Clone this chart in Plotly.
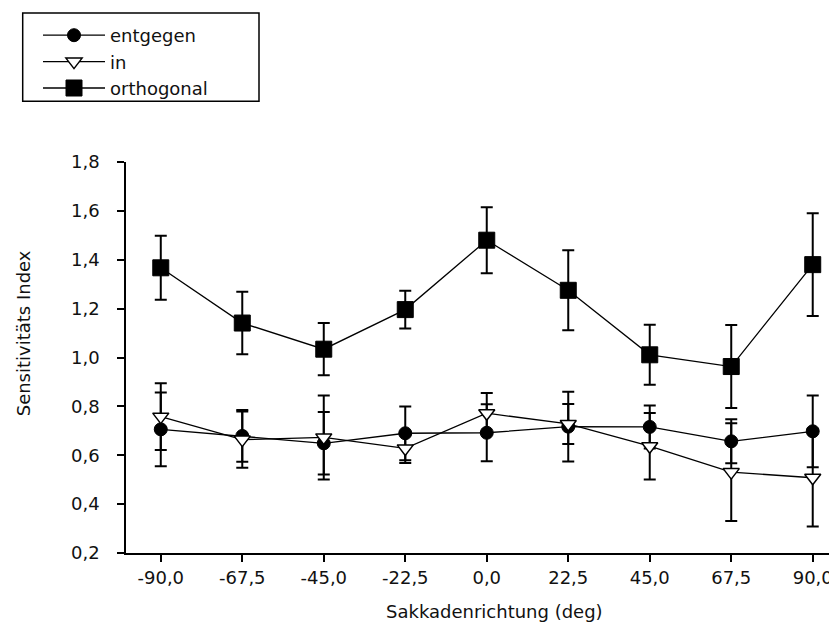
import plotly.graph_objects as go

# Data
directions = [-90, -67.5, -45, -22.5, 0, 22.5, 45, 67.5, 90]
x_tick_labels = ["-90,0", "-67,5", "-45,0", "-22,5", "0,0", "22,5", "45,0", "67,5", "90,0"]
y_tick_vals = [0.2, 0.4, 0.6, 0.8, 1.0, 1.2, 1.4, 1.6, 1.8]
y_tick_labels = ["0,2", "0,4", "0,6", "0,8", "1,0", "1,2", "1,4", "1,6", "1,8"]

entgegen = [0.706, 0.679, 0.649, 0.690, 0.692, 0.717, 0.716, 0.657, 0.698]
entgegen_err = [0.151, 0.106, 0.128, 0.110, 0.117, 0.143, 0.088, 0.090, 0.147]

in_vals = [0.758, 0.664, 0.673, 0.628, 0.772, 0.728, 0.637, 0.531, 0.508]
in_err = [0.137, 0.115, 0.172, 0.060, 0.083, 0.082, 0.136, 0.200, 0.200]

orthogonal = [1.367, 1.141, 1.034, 1.196, 1.480, 1.275, 1.011, 0.963, 1.380]
orthogonal_err = [0.131, 0.128, 0.107, 0.077, 0.135, 0.164, 0.123, 0.170, 0.210]

FONT = "DejaVu Sans"
INK = "#111111"

# page has an 8px body margin; figure coordinates below are screen - 8
W, H = 837, 622
L, T, R, B = 118, 153.7, 8, 77.3
PW, PH = W - L - R, H - T - B


def px_to_paper_x(fx):
    return (fx - L) / PW


def px_to_paper_y(fy):
    return (H - B - fy) / PH


def err(vals):
    return dict(type="data", array=vals, visible=True, color="black",
                thickness=2, width=6)


fig = go.Figure()
fig.add_trace(go.Scatter(
    x=directions, y=entgegen, name="entgegen", mode="lines+markers",
    line=dict(color="black", width=1.3),
    marker=dict(symbol="circle", size=13, color="black",
                line=dict(color="black", width=1)),
    error_y=err(entgegen_err)))
fig.add_trace(go.Scatter(
    x=directions, y=in_vals, name="in", mode="lines+markers",
    line=dict(color="black", width=1.3),
    marker=dict(symbol="triangle-down", size=14, color="white",
                line=dict(color="black", width=1.5)),
    error_y=err(in_err)))
fig.add_trace(go.Scatter(
    x=directions, y=orthogonal, name="orthogonal", mode="lines+markers",
    line=dict(color="black", width=1.3),
    marker=dict(symbol="square", size=16, color="black",
                line=dict(color="black", width=1)),
    error_y=err(orthogonal_err)))

fig.update_layout(
    width=W, height=H,
    margin=dict(l=L, r=R, t=T, b=B, autoexpand=False),
    paper_bgcolor="white", plot_bgcolor="white",
    font=dict(family=FONT, size=18, color=INK),
    showlegend=True,
    legend=dict(
        xref="container", yref="container",
        x=30 / W, y=1 - 9 / H, xanchor="left", yanchor="top",
        borderwidth=0, bgcolor="rgba(0,0,0,0)",
        font=dict(family=FONT, size=18, color=INK),
        itemwidth=62, tracegroupgap=0,
    ),
    shapes=[
        dict(type="rect", xref="paper", yref="paper", layer="below",
             x0=px_to_paper_x(14.7), x1=px_to_paper_x(251),
             y0=px_to_paper_y(4.7), y1=px_to_paper_y(93),
             line=dict(color="black", width=1.5), fillcolor="white"),
    ],
    xaxis=dict(
        range=[-99.6, 96.7], tickmode="array", tickvals=directions,
        ticktext=x_tick_labels, showgrid=False, zeroline=False,
        showline=True, linecolor="black", linewidth=1.5,
        ticks="outside", ticklen=7, tickwidth=1.5, tickcolor="black",
        tickfont=dict(family=FONT, size=18, color=INK),
        ticklabelstandoff=1,
    ),
    yaxis=dict(
        range=[0.2, 1.8], tickmode="array", tickvals=y_tick_vals,
        ticktext=y_tick_labels, showgrid=False, zeroline=False,
        showline=True, linecolor="black", linewidth=1.5,
        ticks="outside", ticklen=7, tickwidth=1.5, tickcolor="black",
        tickfont=dict(family=FONT, size=18, color=INK),
        ticklabelstandoff=14,
    ),
    annotations=[
        dict(text="Sakkadenrichtung (deg)", xref="paper", yref="paper",
             x=px_to_paper_x(494.5 - 8), y=px_to_paper_y(611 - 8),
             xanchor="center", yanchor="middle", showarrow=False,
             font=dict(family=FONT, size=18, color=INK)),
        dict(text="Sensitivitäts Index", xref="paper", yref="paper",
             x=px_to_paper_x(23 - 8), y=px_to_paper_y(333 - 8), textangle=-90,
             xanchor="center", yanchor="middle", showarrow=False,
             font=dict(family=FONT, size=18, color=INK)),
    ],
)

fig.write_html("out.html")
